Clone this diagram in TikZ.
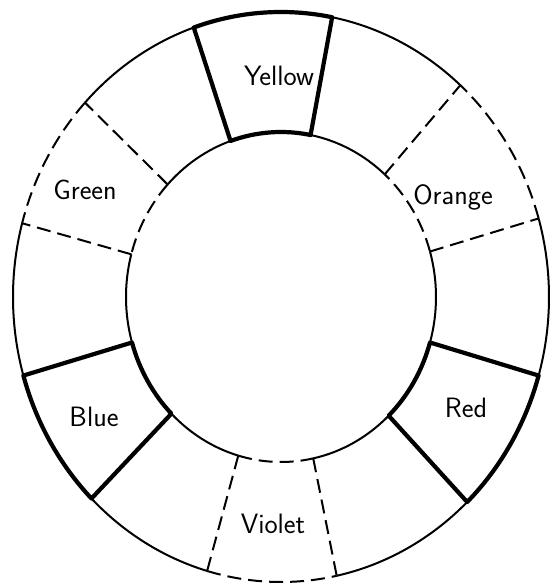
\documentclass[tikz,border=0pt]{standalone}
\usetikzlibrary{positioning}

\begin{document}
\begin{tikzpicture}[
    x=1pt, y=1pt,
    thinline/.style={line width=2pt},
    boldline/.style={line width=4.2pt, line join=round, line cap=round},
    dashline/.style={line width=2pt, dash pattern=on 14pt off 7pt},
    colname/.style={font=\fontsize{28}{32}\selectfont\sffamily},
]
\useasboundingbox (-281,-289) rectangle (269,297);

% plain arcs between the named segments
\foreach \a/\b in {48/79, 109/137, 165/196, 225/254, 282/314, 344/376} {
  \draw [thinline] (\a:268 and 285) arc [start angle=\a, end angle=\b, x radius=268, y radius=285];
  \draw [thinline] (\a:155 and 165) arc [start angle=\a, end angle=\b, x radius=155, y radius=165];
}

% secondary colours
\foreach \a/\b in {16/48, 137/165, 254/282} {
  \draw [dashline] (\a:268 and 285) arc [start angle=\a, end angle=\b, x radius=268, y radius=285];
  \draw [dashline] (\a:155 and 165) arc [start angle=\a, end angle=\b, x radius=155, y radius=165];
  \draw [dashline] (\a:155 and 165) -- (\a:268 and 285);
  \draw [dashline] (\b:155 and 165) -- (\b:268 and 285);
}

% primary colours
\foreach \a/\b in {79/109, 196/225, 314/344} {
  \draw [boldline] (\a:155 and 165) -- (\a:268 and 285)
    arc [start angle=\a, end angle=\b, x radius=268, y radius=285]
    -- (\b:155 and 165)
    arc [start angle=\b, end angle=\a, x radius=155, y radius=165] -- cycle;
}

\node [colname] (yellow) at (-2,221) {Yellow};
\node [colname] (orange) at (172,100) {Orange};
\node [colname] (red) at (185,-111) {Red};
\node [colname] (violet) at (-8,-227) {Violet};
\node [colname] (blue) at (-187,-120) {Blue};
\node [colname] (green) at (-196,107) {Green};

\end{tikzpicture}
\end{document}
